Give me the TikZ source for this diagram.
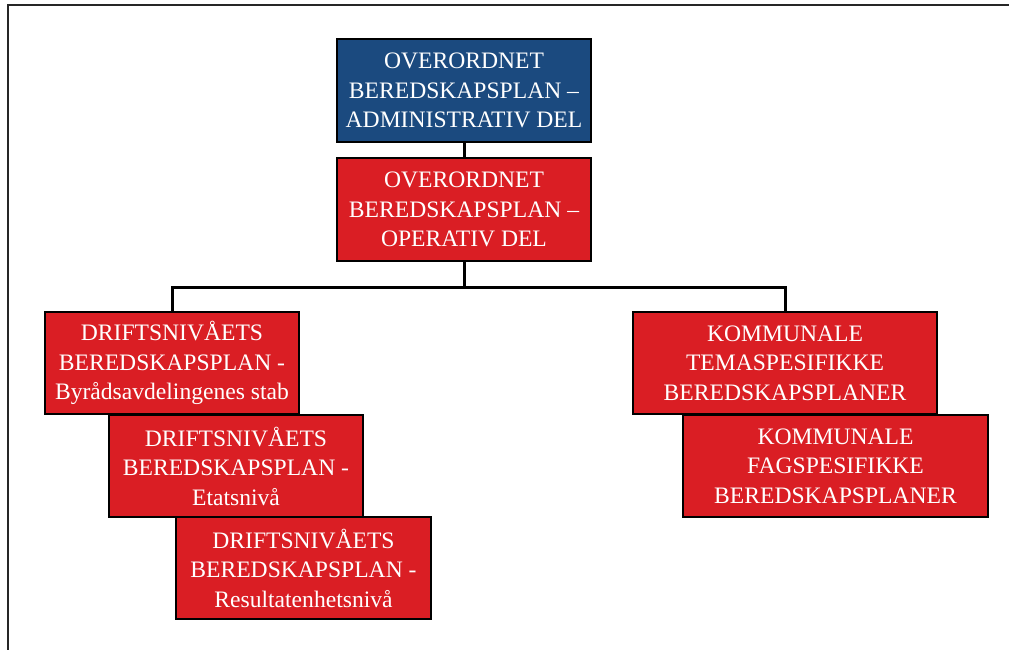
\documentclass[tikz,border=0pt]{standalone}
\usepackage{fontspec}
\setmainfont{Liberation Serif}
\definecolor{planblue}{RGB}{27,74,127}
\definecolor{planred}{RGB}{218,30,36}
\tikzset{
  planbox/.style={draw=black, line width=1.3pt, text=white, align=center, inner sep=0pt,
    font=\fontsize{23.6}{29.5}\selectfont},
  bluebox/.style={planbox, fill=planblue},
  redbox/.style={planbox, fill=planred},
  link/.style={draw=black, line width=3pt}
}
\begin{document}
\begin{tikzpicture}[x=1pt,y=-1pt]
\useasboundingbox (0,0) rectangle (1009,650);
\fill[white] (0,0) rectangle (1009,650);
\draw[line width=2pt, black!85] (8,660) -- (8,5) -- (1020,5);
\node[bluebox, minimum width=254pt, minimum height=103pt] (adm) at (464,90.5)
  {OVERORDNET\\BEREDSKAPSPLAN –\\ADMINISTRATIV DEL};
\node[redbox, minimum width=254pt, minimum height=103pt] (op) at (464,209.5)
  {OVERORDNET\\BEREDSKAPSPLAN –\\OPERATIV DEL};
\coordinate (bus) at (464,287);
\draw[link] (adm.south) -- (op.north);
\draw[link] (op.south) -- (bus);
\node[redbox, minimum width=254pt, minimum height=102pt] (d1) at (172,363)
  {DRIFTSNIVÅETS\\BEREDSKAPSPLAN -\\Byrådsavdelingenes stab};
\node[redbox, minimum width=304pt, minimum height=102pt] (k1) at (785,363)
  {KOMMUNALE\\TEMASPESIFIKKE\\BEREDSKAPSPLANER};
\draw[link] (d1.north) |- (bus) -| (k1.north);
\node[redbox, minimum width=254pt, minimum height=102pt] (d2) at (236,466)
  {DRIFTSNIVÅETS\\BEREDSKAPSPLAN -\\Etatsnivå};
\node[redbox, minimum width=255pt, minimum height=102pt] (d3) at (303.5,568)
  {DRIFTSNIVÅETS\\BEREDSKAPSPLAN -\\Resultatenhetsnivå};
\node[redbox, minimum width=305pt, minimum height=102pt] (k2) at (835.5,466)
  {KOMMUNALE\\FAGSPESIFIKKE\\BEREDSKAPSPLANER};
\end{tikzpicture}
\end{document}
